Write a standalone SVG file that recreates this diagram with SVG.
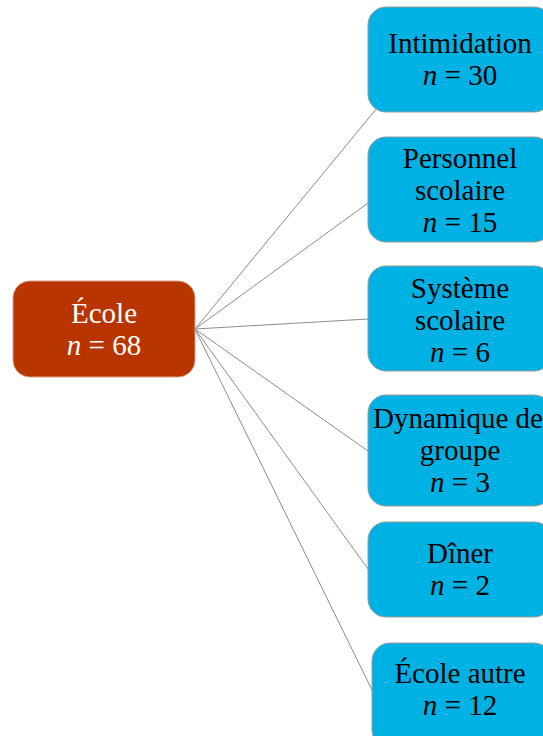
<svg xmlns="http://www.w3.org/2000/svg" width="543" height="736" viewBox="0 0 543 736">
<style>
.root{fill:#B93500;stroke:#D9A08A;stroke-width:1}
.leaf{fill:#00B2E4;stroke:#9A9A9A;stroke-width:1}
.t{font-family:"Liberation Serif","Times New Roman",serif;font-size:29px;text-anchor:middle}
.w{fill:#FFFFFF}
.k{fill:#000000}
.c line{stroke:#8C8C8C;stroke-width:1}
</style>
<rect width="543" height="736" fill="#FFFFFF"/>
<g id="connectors" class="c">
<line x1="195" y1="329" x2="377" y2="108"/>
<line x1="195" y1="329" x2="368" y2="203"/>
<line x1="195" y1="329" x2="368" y2="319"/>
<line x1="195" y1="329" x2="368" y2="451"/>
<line x1="195" y1="329" x2="368" y2="569"/>
<line x1="195" y1="329" x2="372" y2="690"/>
</g>
<g id="ecole">
<rect class="root" x="13" y="281" width="182" height="96" rx="17"/>
<text class="t w" x="104" y="323">École</text>
<text class="t w" x="104" y="355"><tspan font-style="italic">n</tspan> = 68</text>
</g>
<g id="intimidation">
<rect class="leaf" x="368" y="7" width="184" height="105" rx="18"/>
<text class="t k" x="460" y="53">Intimidation</text>
<text class="t k" x="460" y="85"><tspan font-style="italic">n</tspan> = 30</text>
</g>
<g id="personnel">
<rect class="leaf" x="368" y="137" width="184" height="105" rx="18"/>
<text class="t k" x="460" y="168">Personnel</text>
<text class="t k" x="460" y="200">scolaire</text>
<text class="t k" x="460" y="232"><tspan font-style="italic">n</tspan> = 15</text>
</g>
<g id="systeme">
<rect class="leaf" x="368" y="266" width="184" height="105" rx="18"/>
<text class="t k" x="460" y="298">Système</text>
<text class="t k" x="460" y="330">scolaire</text>
<text class="t k" x="460" y="362"><tspan font-style="italic">n</tspan> = 6</text>
</g>
<g id="dynamique">
<rect class="leaf" x="368" y="395" width="184" height="111" rx="18"/>
<text class="t k" x="458" y="428">Dynamique de</text>
<text class="t k" x="460" y="460">groupe</text>
<text class="t k" x="460" y="492"><tspan font-style="italic">n</tspan> = 3</text>
</g>
<g id="diner">
<rect class="leaf" x="368" y="522" width="184" height="95" rx="18"/>
<text class="t k" x="460" y="563">Dîner</text>
<text class="t k" x="460" y="595"><tspan font-style="italic">n</tspan> = 2</text>
</g>
<g id="ecole-autre">
<rect class="leaf" x="372" y="643" width="180" height="105" rx="18"/>
<text class="t k" x="460" y="683">École autre</text>
<text class="t k" x="460" y="715"><tspan font-style="italic">n</tspan> = 12</text>
</g>
</svg>
